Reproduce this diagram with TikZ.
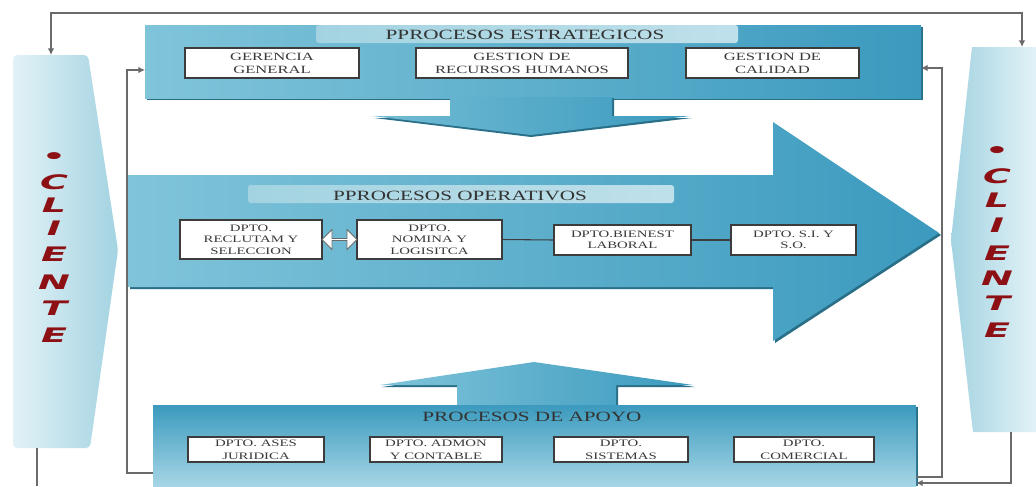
\documentclass[tikz,border=0pt]{standalone}
\usepackage{fontspec}
\setmainfont[FakeStretch=1.5]{Liberation Serif}
\newfontfamily\clifont{DejaVu Sans}
\usetikzlibrary{shapes.arrows,calc,arrows.meta}
\definecolor{tealL}{HTML}{80C4DA}
\definecolor{tealR}{HTML}{3B9ABE}
\definecolor{tealD}{HTML}{2A6F88}
\definecolor{cliL}{HTML}{E2F2F7}
\definecolor{cliR}{HTML}{A3D3E1}
\definecolor{boxline}{HTML}{3C3C3C}
\definecolor{txt}{HTML}{3A3A3A}
\definecolor{conn}{HTML}{6A6A6A}
\definecolor{clired}{HTML}{8C1014}
\newcommand{\cliletter}[1]{\scalebox{1.9}[1]{\clifont\bfseries\itshape\fontsize{15}{16}\selectfont #1}}
\begin{document}
\begin{tikzpicture}[x=0.75pt,y=-0.75pt,
  bx/.style 2 args={minimum width=#1*0.75pt, minimum height=#2*0.75pt},
  dbox/.style={draw=boxline, fill=white, line width=0.9pt, inner sep=0pt, align=center, text=txt},
  estxt/.style={font=\fontsize{8.3}{9.8}\selectfont},
  optxt/.style={font=\fontsize{7.4}{8.6}\selectfont},
  aptxt/.style={font=\fontsize{7.4}{9.5}\selectfont},
  title/.style={font=\fontsize{10.6}{12}\selectfont, text=black!80, inner sep=0pt},
  conline/.style={draw=conn, line width=1.1pt},
  tip/.style={-{Latex[length=5pt,width=5pt]}},
  cli/.style={text=clired, inner sep=0pt},
  tabshade/.style={left color=#1, middle color=white, right color=#1!70, rounded corners=2pt}
]
\useasboundingbox (0,0) rectangle (1036,486);
\fill[white] (0,0) rectangle (1036,486);

% ---------- client shapes ----------
\shade[left color=cliL, right color=cliR, rounded corners=3pt]
  (13,55) -- (88,55) -- (118,250) -- (90,448) -- (13,448) -- cycle;
\shade[left color=cliR, right color=cliL]
  (972,47) -- (1036,47) -- (1036,432) -- (973,432) -- (951,240) -- cycle;
\coordinate (clTop) at (51,55);
\coordinate (clBot) at (37,448);
\coordinate (clEnd) at (37,486);
\coordinate (crTop) at (1022,47);
\coordinate (crBot) at (1011,432);

% CLIENTE letters
\foreach \ch/\yy [count=\i] in {\textbullet/158, C/182, L/205, I/228, E/254, N/282, T/308, E/335}
  \node[cli] (cl\i) at (54,\yy) {\cliletter{\ch}};
\foreach \ch/\yy [count=\i] in {\textbullet/152, C/176, L/200, I/225, E/253, N/278, T/303, E/330}
  \node[cli] (cr\i) at (997,\yy) {\cliletter{\ch}};

% ---------- strategic block ----------
\fill[tealD] (147,27) rectangle (923,100);
\shade[left color=tealL, right color=tealR] (145,25) rectangle (921,98);
\fill[tealD] (452,98) -- (452,118) -- (374,118) -- (531,137) -- (692,118) -- (614,118) -- (614,98) -- cycle;
\shade[left color=tealL!80!tealR, right color=tealR]
  (450,97) -- (450,116) -- (372,116) -- (531,135) -- (690,116) -- (612,116) -- (612,97) -- cycle;
\shade[tabshade=cliR] (316,25) rectangle (738,43);
\node[title] (estT) at (525,35) {PPROCESOS ESTRATEGICOS};
\coordinate (estW) at (145,70);
\coordinate (estE) at (921,68);

\node[dbox, estxt, bx={174}{30}] (g1) at (272,63) {GERENCIA\\GENERAL};
\node[dbox, estxt, bx={212}{30}] (g2) at (522,63) {GESTION DE\\RECURSOS HUMANOS};
\node[dbox, estxt, bx={173}{30}] (g3) at (772.5,63) {GESTION DE\\CALIDAD};

% ---------- operative arrow ----------
\fill[tealD] (130,177) -- (775,177) -- (775,124) -- (941,235) -- (775,343) -- (775,289) -- (130,289) -- cycle;
\shade[left color=tealL, right color=tealR]
  (128,175) -- (773,175) -- (773,122) -- (939,233) -- (773,341) -- (773,287) -- (128,287) -- cycle;
\shade[tabshade=cliR] (248,185) rectangle (674,203);
\node[title] (opT) at (460,196) {PPROCESOS OPERATIVOS};

\node[dbox, optxt, bx={142}{39}] (o1) at (251,239.5) {DPTO.\\RECLUTAM Y\\SELECCION};
\node[dbox, optxt, bx={145}{39}] (o2) at (429.5,239.5) {DPTO.\\NOMINA Y\\LOGISITCA};
\node[dbox, optxt, bx={137}{30}] (o3) at (622.5,240) {DPTO.BIENEST\\LABORAL};
\node[dbox, optxt, bx={125}{30}] (o4) at (793.5,240) {DPTO. S.I. Y\\S.O.};
\node[double arrow, draw=conn, fill=white, line width=0.6pt, inner sep=0pt,
      minimum height=35*0.75pt, minimum width=20*0.75pt,
      double arrow head extend=2.5pt] (dbl) at ($(o1.east)!0.5!(o2.west)$) {};
\draw[draw=boxline, line width=0.8pt] (o2.east) -- (o3.west);
\draw[draw=boxline, line width=0.8pt] (o3.east) -- (o4.west);

% ---------- support block ----------
\fill[tealD] (459,407) -- (459,387) -- (382,387) -- (536,364) -- (695,387) -- (618,387) -- (618,407) -- cycle;
\shade[left color=tealL, right color=tealR]
  (457,406) -- (457,385) -- (380,385) -- (534,362) -- (693,385) -- (616,385) -- (616,406) -- cycle;
\fill[tealD] (155,407) rectangle (918,486);
\shade[top color=tealR, bottom color=tealL!70!white] (153,405) rectangle (916,486);
\node[title] (apT) at (532,417) {PROCESOS DE APOYO};
\coordinate (apW) at (153,473);
\coordinate (apE1) at (916,477);
\coordinate (apE2) at (916,483);

\node[dbox, aptxt, bx={136}{25}] (a1) at (256,449.5) {DPTO. ASES\\JURIDICA};
\node[dbox, aptxt, bx={132}{25}] (a2) at (436,449.5) {DPTO. ADMON\\Y CONTABLE};
\node[dbox, aptxt, bx={134}{25}] (a3) at (621,449.5) {DPTO.\\SISTEMAS};
\node[dbox, aptxt, bx={140}{25}] (a4) at (804,449.5) {DPTO.\\COMERCIAL};

% ---------- connectors ----------
\draw[conline, {Latex[length=5pt,width=5pt]}-{Latex[length=5pt,width=5pt]}]
  (clTop) -- ++(0,-42) -| (crTop);
\draw[conline] (clBot) -- (clEnd);
\draw[conline, tip] (apW) -- ++(-26,0) |- (estW);
\draw[conline, tip] (apE1) -- ++(26,0) |- (estE);
\draw[conline, tip] (crBot) |- (apE2);
\end{tikzpicture}
\end{document}
